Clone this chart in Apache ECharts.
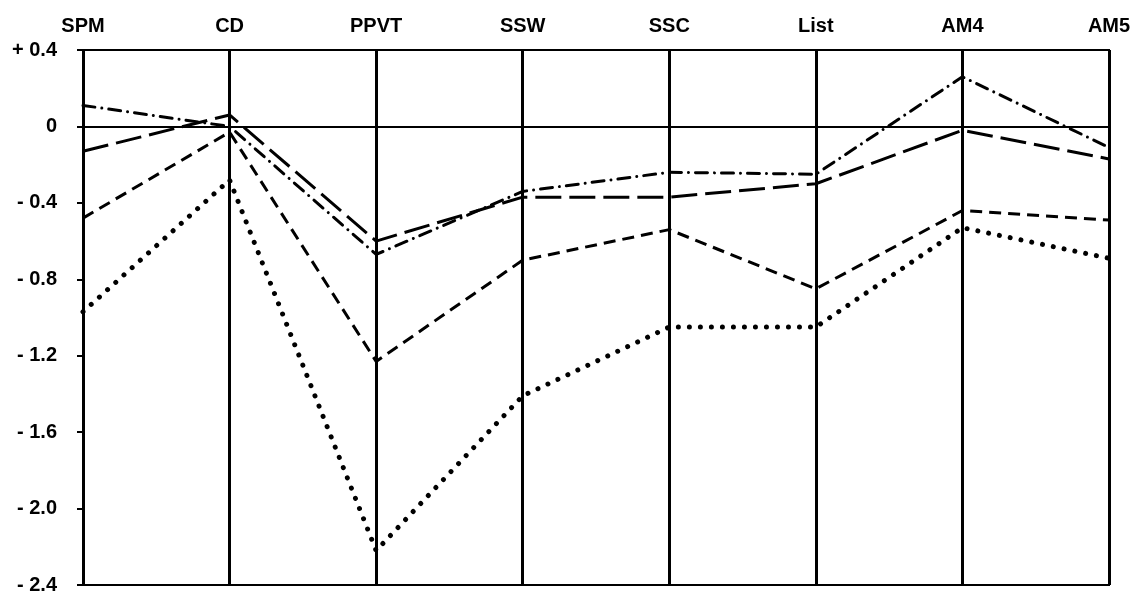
<!DOCTYPE html>
<html>
<head>
<meta charset="utf-8">
<script src="https://cdn.jsdelivr.net/npm/echarts@6/dist/echarts.min.js"></script>
<style>
  html, body { margin: 0; padding: 0; background: #fff; }
  #chart { width: 1140px; height: 595px; }
</style>
</head>
<body>
<div id="chart"></div>
<script>
// categories across the top
var categories = ['SPM', 'CD', 'PPVT', 'SSW', 'SSC', 'List', 'AM4', 'AM5']

// series values
var dashDotValues = [0.11, 0.0, -0.67, -0.34, -0.24, -0.25, 0.26, -0.11]
var longDashValues = [-0.13, 0.06, -0.60, -0.37, -0.37, -0.30, -0.02, -0.17]
var dashValues = [-0.48, -0.03, -1.23, -0.70, -0.54, -0.85, -0.44, -0.49]
var dottedValues = [-0.97, -0.28, -2.22, -1.41, -1.05, -1.05, -0.53, -0.69]

// y tick labels
var yTicks = { '0.4': '+ 0.4', '0': '0', '-0.4': '- 0.4', '-0.8': '- 0.8', '-1.2': '- 1.2',
  '-1.6': '- 1.6', '-2': '- 2.0', '-2.4': '- 2.4' }

var chart = echarts.init(document.getElementById('chart'))

function lineSeries(name, data, width, dash, cap) {
  return {
    name: name,
    type: 'line',
    data: data,
    symbol: 'none',
    silent: true,
    animation: false,
    lineStyle: { color: '#000', width: width, type: dash, cap: cap || 'butt' }
  }
}

var series = [
  lineSeries('dashdot', dashDotValues, 3, [12, 7, 0.01, 7], 'round'),
  lineSeries('longdash', longDashValues, 3, [26, 8]),
  lineSeries('dash', dashValues, 3, [12, 7]),
  lineSeries('dotted', dottedValues, 5, [0.01, 11], 'round')
]
// horizontal zero line
series[0].markLine = {
  silent: true,
  symbol: 'none',
  label: { show: false },
  lineStyle: { color: '#000', width: 2, type: 'solid' },
  data: [{ yAxis: 0 }]
}

chart.setOption({
  backgroundColor: '#fff',
  animation: false,
  grid: { left: 83, right: 31, top: 50, bottom: 6, show: true, borderColor: '#000', borderWidth: 2 },
  xAxis: {
    type: 'category',
    position: 'top',
    data: categories,
    boundaryGap: false,
    axisLine: { show: true, lineStyle: { color: '#000', width: 2 } },
    axisTick: { show: false },
    axisLabel: { color: '#000', fontFamily: 'Liberation Sans, Arial', fontWeight: 'bold', fontSize: 20, margin: 14 },
    splitLine: { show: true, lineStyle: { color: '#000', width: 3 } }
  },
  yAxis: {
    type: 'value',
    min: -2.4,
    max: 0.4,
    interval: 0.4,
    axisLine: { show: false },
    axisTick: { show: true, length: 6, lineStyle: { color: '#000', width: 2 } },
    splitLine: { show: false },
    axisLabel: {
      color: '#000',
      fontFamily: 'Liberation Sans, Arial',
      fontWeight: 'bold',
      fontSize: 20,
      margin: 26,
      formatter: function (v) {
        var k = String(Math.round(v * 10) / 10)
        return yTicks[k] !== undefined ? yTicks[k] : k
      }
    }
  },
  series: series
})
</script>
</body>
</html>
